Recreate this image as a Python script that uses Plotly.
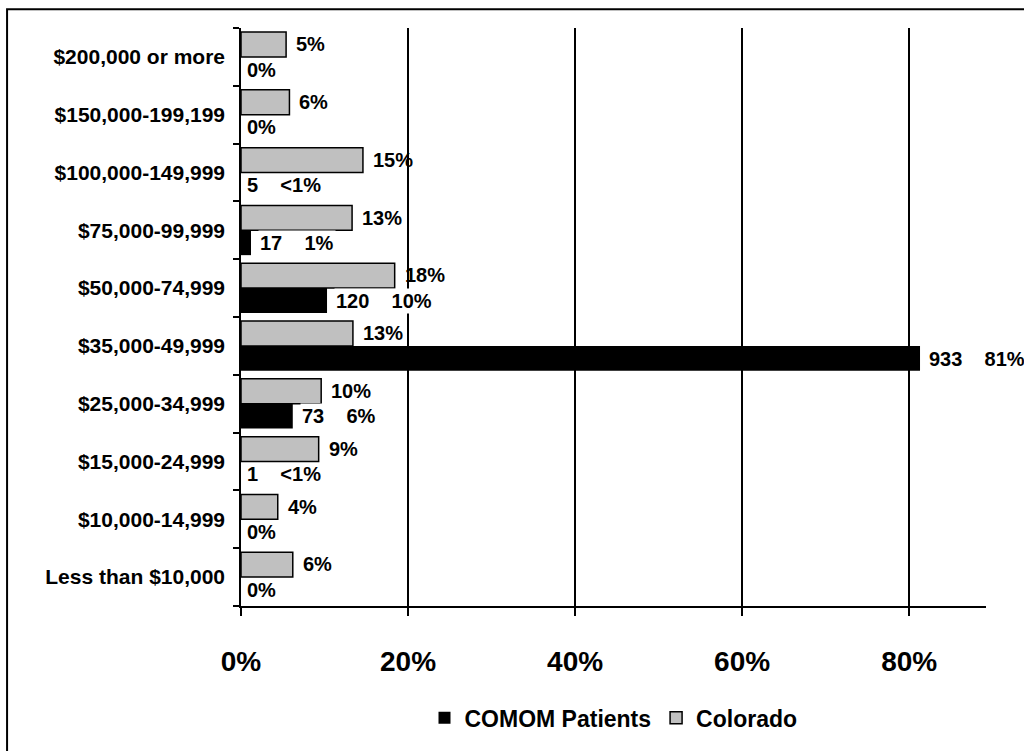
import plotly.graph_objects as go

# Categories, bottom to top as they appear on the chart
categories = [
    "Less than $10,000",
    "$10,000-14,999",
    "$15,000-24,999",
    "$25,000-34,999",
    "$35,000-49,999",
    "$50,000-74,999",
    "$75,000-99,999",
    "$100,000-149,999",
    "$150,000-199,199",
    "$200,000 or more",
]

# Colorado (percent of households)
colorado_pct = [6.2, 4.4, 9.3, 9.6, 13.4, 18.4, 13.3, 14.6, 5.8, 5.4]
colorado_text = ["6%", "4%", "9%", "10%", "13%", "18%", "13%", "15%", "6%", "5%"]

# COMOM patients (count and percent)
comom_count = ["", "", "1", "73", "933", "120", "17", "5", "", ""]
comom_pct = [0, 0, 0, 6.2, 81.3, 10.3, 1.2, 0, 0, 0]
comom_pct_text = ["0%", "0%", "<1%", "6%", "81%", "10%", "1%", "<1%", "0%", "0%"]

x_ticks = [0, 20, 40, 60, 80]
x_tick_labels = ["0%", "20%", "40%", "60%", "80%"]

FONT = "Liberation Sans, Arial, Helvetica, sans-serif"
SP = "\u00a0" * 4

fig = go.Figure()
fig.add_trace(go.Bar(
    name="COMOM Patients", y=categories, x=comom_pct, orientation="h",
    marker=dict(color="black", line=dict(color="black", width=0)),
))
fig.add_trace(go.Bar(
    name="Colorado", y=categories, x=colorado_pct, orientation="h",
    marker=dict(color="#c0c0c0", line=dict(color="black", width=1.5)),
))

HALF = 12.7
for cat, v, t in zip(categories, colorado_pct, colorado_text):
    fig.add_annotation(x=v, y=cat, text=t, xanchor="left", yanchor="middle",
                       xshift=8, yshift=HALF, showarrow=False,
                       font=dict(family=FONT, size=20, color="black", weight="bold"))

for cat, v, c, p in zip(categories, comom_pct, comom_count, comom_pct_text):
    txt = (c + SP + p) if c else p
    fig.add_annotation(x=v, y=cat, text=txt, xanchor="left", yanchor="middle",
                       xshift=7 if v > 0 else 4, yshift=-HALF, showarrow=False,
                       bgcolor="white" if v > 0 else None,
                       font=dict(family=FONT, size=20, color="black", weight="bold"))

fig.update_layout(
    width=1024, height=751,
    margin=dict(l=241, r=38, t=28, b=134, pad=0),
    paper_bgcolor="white", plot_bgcolor="white",
    barmode="group", bargap=0.14, bargroupgap=0,
    font=dict(family=FONT, color="black"),
    xaxis=dict(
        range=[0, 89.2], tickmode="array", tickvals=x_ticks, ticktext=x_tick_labels,
        showgrid=True, gridcolor="black", gridwidth=1.5,
        zeroline=False, showline=True, linecolor="black", linewidth=1.5,
        ticks="outside", ticklen=8, tickwidth=1.5, tickcolor="black",
        tickfont=dict(family=FONT, size=28, color="black", weight="bold"),
        ticklabelstandoff=22,
    ),
    yaxis=dict(
        type="category", showgrid=False, zeroline=False,
        showline=True, linecolor="black", linewidth=1.5,
        ticks="outside", tickson="boundaries", ticklen=6, tickwidth=1.5, tickcolor="black",
        tickfont=dict(family=FONT, size=21, color="black", weight="bold"),
        ticklabelstandoff=10,
    ),
    legend=dict(
        orientation="h", x=0.5, xanchor="center", y=-0.1935, yanchor="middle",
        font=dict(family=FONT, size=23, color="black", weight="bold"),
        bgcolor="rgba(0,0,0,0)",
    ),
    shapes=[dict(type="rect", xref="paper", yref="paper",
                 x0=-0.314, x1=1.3, y0=-0.5, y1=1.0323,
                 line=dict(color="black", width=2), fillcolor="rgba(0,0,0,0)")],
)

fig.write_html("out.html")
